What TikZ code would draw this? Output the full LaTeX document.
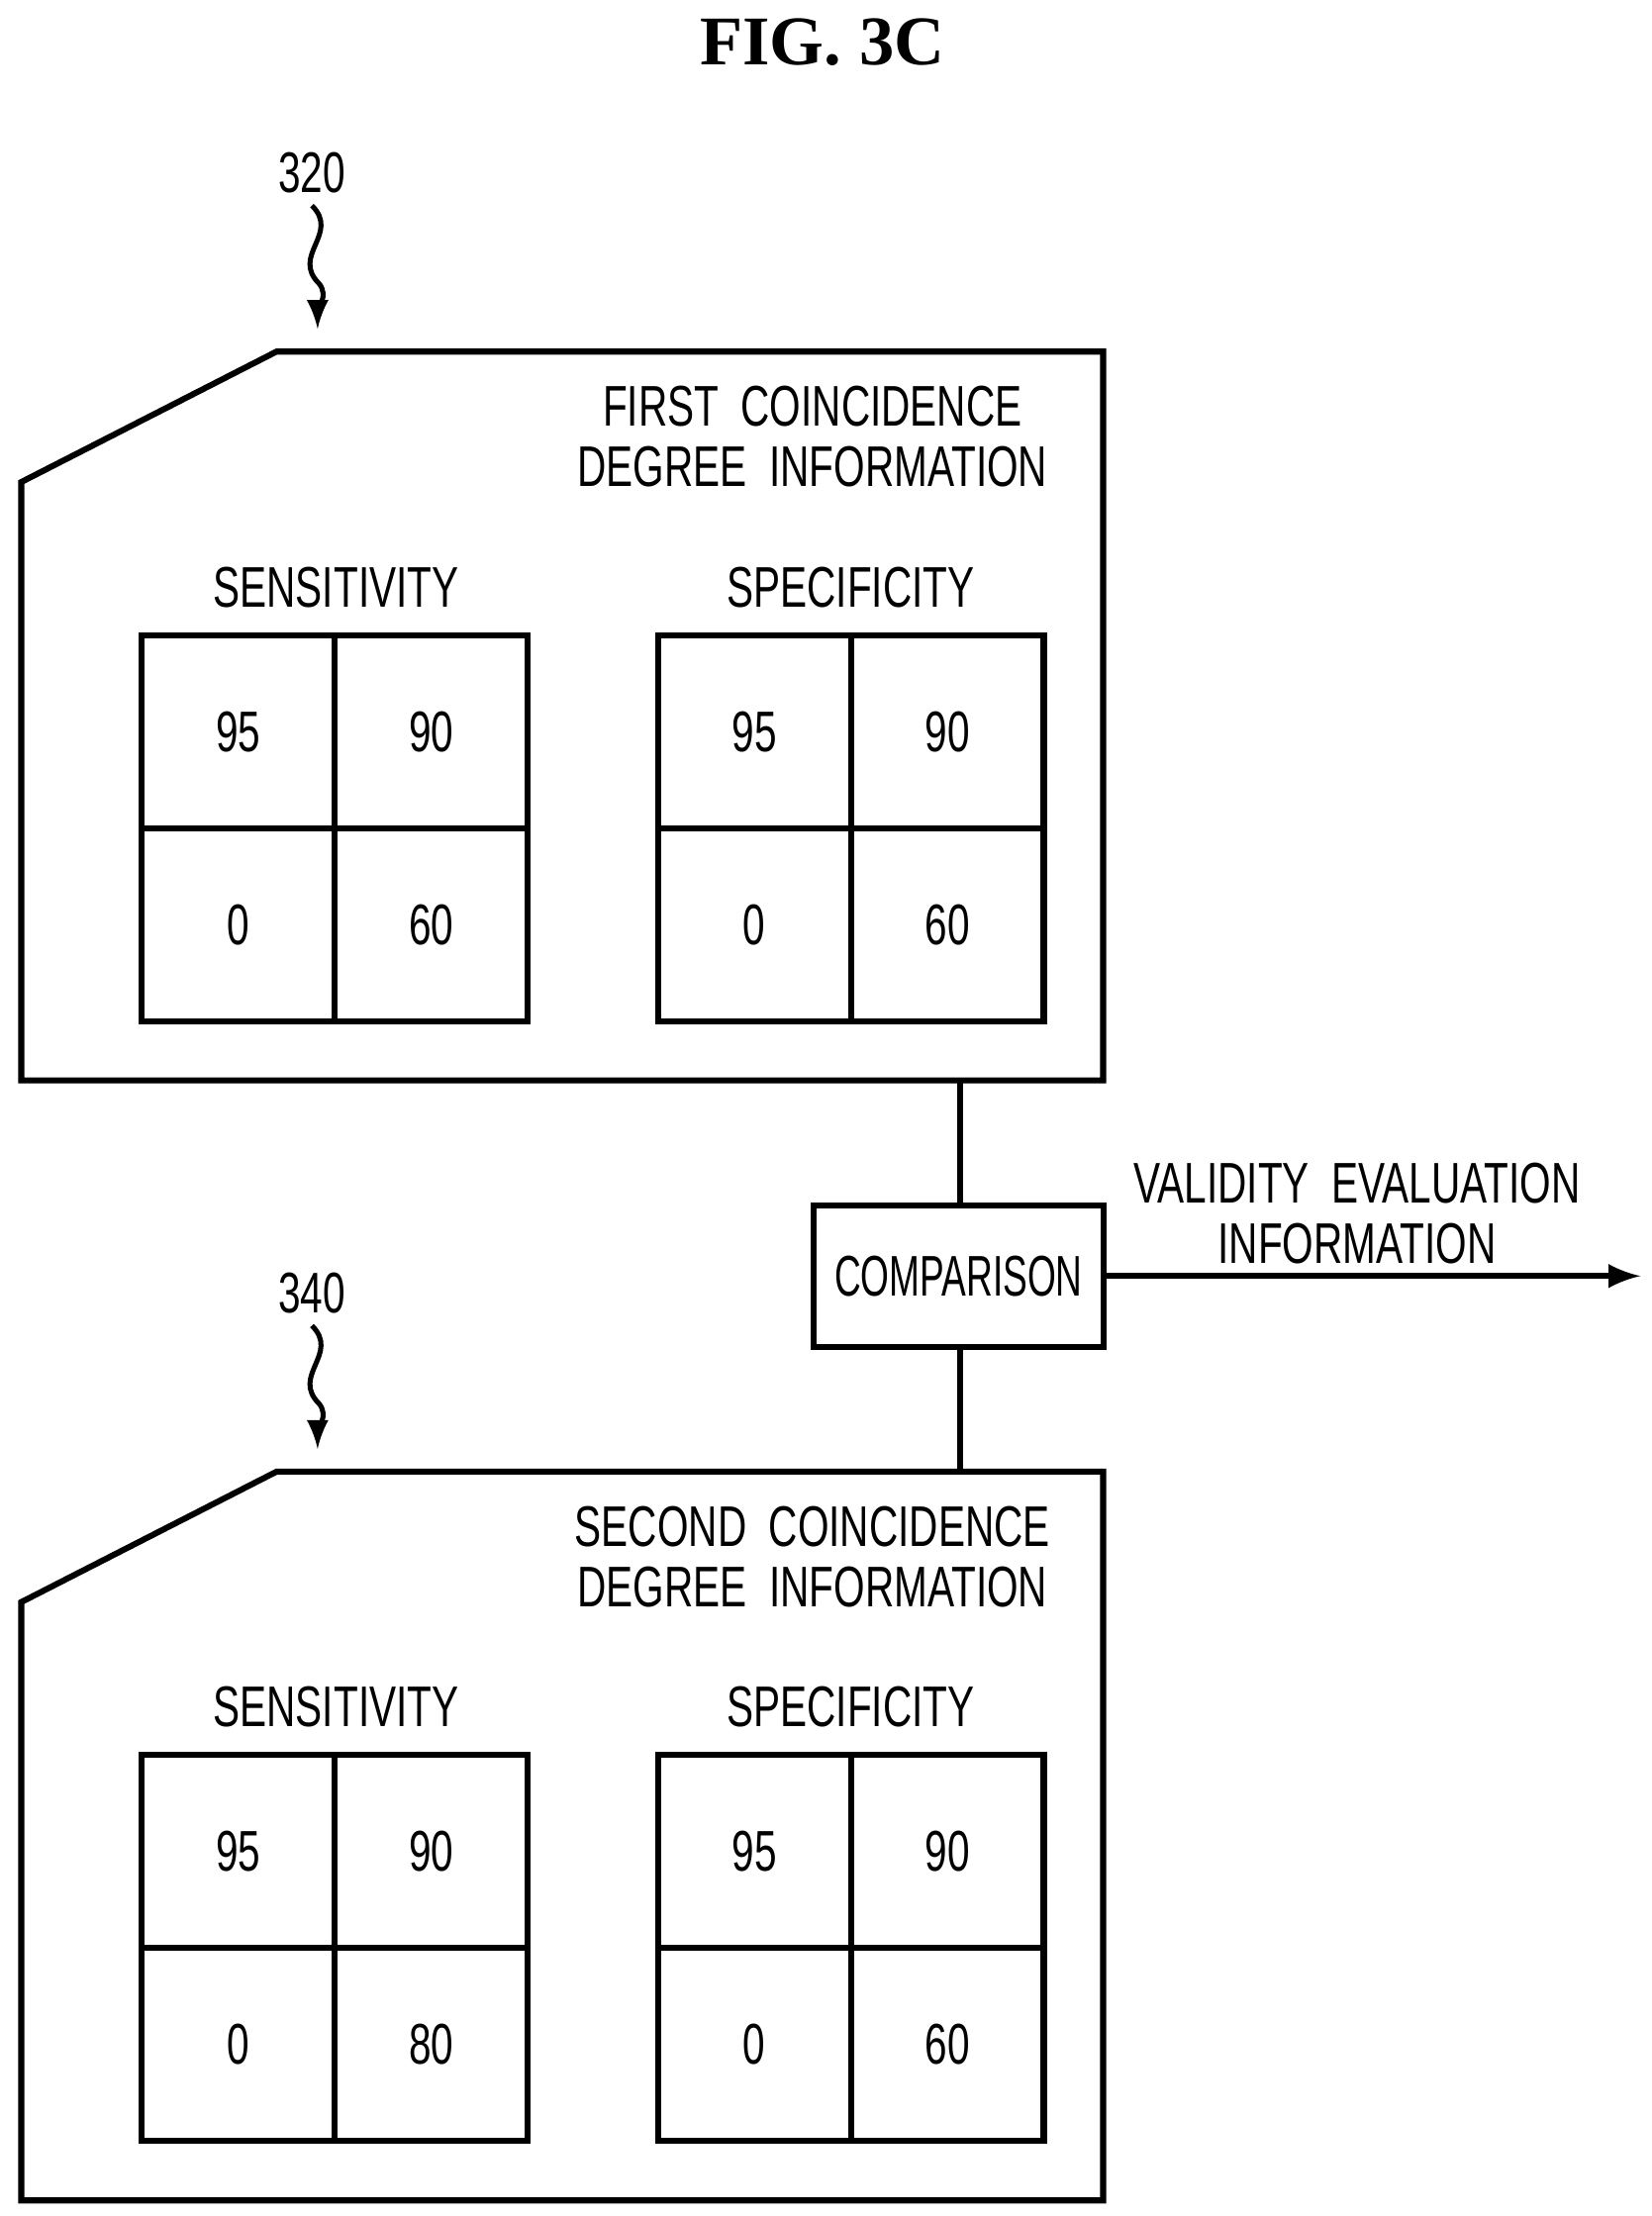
\documentclass[tikz,border=0pt]{standalone}
\usepackage{fontspec}
\setmainfont{Liberation Sans}
\newfontfamily\titlefont{Liberation Serif}
\usepackage{graphicx}
\usetikzlibrary{positioning, calc}
\newcommand{\nrw}[1]{\scalebox{0.7}[1]{#1}}
\tikzset{
  txt/.style={font=\fontsize{11.5}{13}\selectfont, inner sep=0pt, align=center},
  cell/.style={draw, line width=1.2pt, minimum size=1.36cm, inner sep=0pt, outer sep=0pt, font=\fontsize{11.5}{13}\selectfont},
  frame/.style={draw, line width=1.2pt},
}
\begin{document}
\begin{tikzpicture}[x=0.01cm, y=-0.01cm, line width=1.2pt]
\useasboundingbox (0,0) rectangle (1165,1563);
\node [font=\titlefont\bfseries\fontsize{14}{16}\selectfont, inner sep=0pt] (title) at (580,30) {FIG. 3C};
% two information blocks
\foreach \oy/\ref/\word/\v in {0/320/FIRST/60, 790/340/SECOND/80} {
  \begin{scope}[yshift=-\oy*0.01cm]
  \draw [frame] (195,248) -- (778,248) -- (778,762) -- (15,762) -- (15,340) -- cycle;
  \node [txt] (ref\ref) at (220,122) {\nrw{\ref}};
  \coordinate (tip\ref) at (224,232);
  \draw [-latex, line width=1pt] (220,145) .. controls (240,165) and (205,180) .. (225,200) .. controls (232,208) and (224,220) .. (tip\ref);
  \node [txt] (head\ref) at (573,308) {\nrw{\word\ \ COINCIDENCE}\\[-1pt]\nrw{DEGREE\ \ INFORMATION}};
  \node [txt] (sen\ref) at (237,414) {\nrw{SENSITIVITY}};
  \node [txt] (spe\ref) at (600,414) {\nrw{SPECIFICITY}};
  \node [cell] (a\ref) at (168,516) {\nrw{95}};
  \node [cell, right=0pt of a\ref] (b\ref) {\nrw{90}};
  \node [cell, below=0pt of a\ref] (c\ref) {\nrw{0}};
  \node [cell, right=0pt of c\ref] (d\ref) {\nrw{\v}};
  \node [cell] (e\ref) at (532,516) {\nrw{95}};
  \node [cell, right=0pt of e\ref] (f\ref) {\nrw{90}};
  \node [cell, below=0pt of e\ref] (g\ref) {\nrw{0}};
  \node [cell, right=0pt of g\ref] (h\ref) {\nrw{60}};
  \end{scope}
}
\coordinate (top) at (677,762);
\coordinate (bot) at (677,1038);
\node [frame, minimum width=2.04cm, minimum height=1cm, txt, outer sep=0pt] (cmp) at (676,900) {\scalebox{0.64}[1]{COMPARISON}};
\coordinate (out) at (1157,900);
\draw (top) -- (cmp.north -| top);
\draw (cmp.south -| bot) -- (bot);
\draw [-latex] (cmp.east) -- (out);
\node [txt] (valid) at (957,856) {\nrw{VALIDITY\ \ EVALUATION}\\[-1pt]\nrw{INFORMATION}};
\end{tikzpicture}
\end{document}
